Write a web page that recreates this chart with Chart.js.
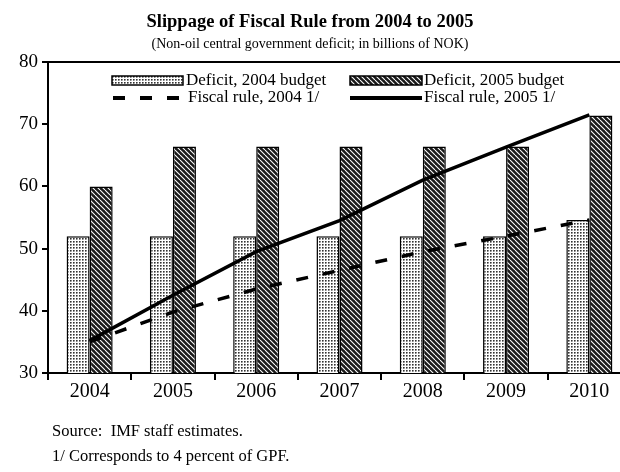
<!DOCTYPE html>
<html>
<head>
<meta charset="utf-8">
<script src="https://cdn.jsdelivr.net/npm/chart.js@4.4.1/dist/chart.umd.min.js"></script>
<style>
html, body { margin: 0; padding: 0; background: #fff; overflow: hidden; }
#wrap { width: 640px; height: 472px; }
</style>
</head>
<body>
<div id="wrap"><canvas id="mycanvas" width="640" height="472"></canvas></div>
<script>
// data
var years = ["2004", "2005", "2006", "2007", "2008", "2009", "2010"];
var budget2004 = [52, 52, 52, 52, 52, 52, 54.6];
var budget2005 = [60, 66.4, 66.4, 66.4, 66.4, 66.4, 71.4];
var rule2004 = [35, 39.8, 43.5, 46.5, 49.5, 52, 54.6];
var rule2005 = [35.2, 42.5, 49.5, 54.5, 61, 66.3, 71.5];
var yMin = 30, yMax = 80, yStep = 10;

var labels2004 = "Deficit, 2004 budget";
var labels2005 = "Deficit, 2005 budget";
var labelRule04 = "Fiscal rule, 2004 1/";
var labelRule05 = "Fiscal rule, 2005 1/";

var serif = "'Liberation Serif', 'Times New Roman', serif";

var canvas = document.getElementById("mycanvas");
var ctx = canvas.getContext("2d");

function dotPattern() {
	var c = document.createElement("canvas");
	c.width = 3; c.height = 3;
	var g = c.getContext("2d");
	g.fillStyle = "#ffffff";
	g.fillRect(0, 0, 3, 3);
	g.fillStyle = "#bbbbbb";
	g.fillRect(2, 2, 1, 1);
	g.fillStyle = "#808080";
	g.fillRect(2, 1, 1, 1);
	g.fillRect(1, 2, 1, 1);
	g.fillStyle = "#333333";
	g.fillRect(1, 1, 1, 1);
	return ctx.createPattern(c, "repeat");
}

function hatchPattern() {
	var c = document.createElement("canvas");
	c.width = 5; c.height = 5;
	var g = c.getContext("2d");
	g.fillStyle = "#1a1a1a";
	g.fillRect(0, 0, 5, 5);
	g.strokeStyle = "#ffffff";
	g.lineWidth = 1.1;
	[-5, 0, 5].forEach(function(k) {
		g.beginPath();
		g.moveTo(k, 0);
		g.lineTo(k + 5, 5);
		g.stroke();
	});
	return ctx.createPattern(c, "repeat");
}

var dots = dotPattern();
var hatch = hatchPattern();

// title, legend, top frame line and notes
var decor = {
	id: "decor",
	afterDraw: function(chart) {
		var c = chart.ctx;
		var a = chart.chartArea;
		c.save();
		c.strokeStyle = "#000";
		c.lineWidth = 2;
		c.beginPath();
		c.moveTo(a.left, a.top);
		c.lineTo(a.right, a.top);
		c.stroke();

		c.fillStyle = "#000";
		c.textAlign = "center";
		c.textBaseline = "middle";
		c.font = "bold 18.5px " + serif;
		c.fillText("Slippage of Fiscal Rule from 2004 to 2005", 310, 22);
		c.font = "14px " + serif;
		c.fillText("(Non-oil central government deficit; in billions of NOK)", 310, 44);

		// legend
		c.textAlign = "left";
		c.font = "17px " + serif;
		c.lineWidth = 1.5;
		c.fillStyle = dots;
		c.fillRect(112, 76, 71, 9);
		c.strokeRect(112, 76, 71, 9);
		c.fillStyle = hatch;
		c.fillRect(350, 76, 72, 9);
		c.strokeRect(350, 76, 72, 9);
		c.fillStyle = "#000";
		c.fillText(labels2004, 186, 81);
		c.fillText(labels2005, 424, 81);

		c.lineWidth = 4;
		c.setLineDash([12, 15]);
		c.beginPath();
		c.moveTo(113, 98);
		c.lineTo(183, 98);
		c.stroke();
		c.setLineDash([]);
		c.beginPath();
		c.moveTo(350, 98);
		c.lineTo(422, 98);
		c.stroke();
		c.fillText(labelRule04, 188, 98);
		c.fillText(labelRule05, 424, 98);

		c.font = "16.5px " + serif;
		c.fillText("Source:  IMF staff estimates.", 52, 432);
		c.fillText("1/ Corresponds to 4 percent of GPF.", 52, 457);
		c.restore();
	}
};

var chartdata = {
	labels: years,
	datasets: [
		{
			type: "line",
			label: labelRule05,
			data: rule2005,
			borderColor: "#000",
			borderWidth: 3.5,
			pointRadius: 0,
			tension: 0,
			fill: false,
			order: 0
		},
		{
			type: "line",
			label: labelRule04,
			data: rule2004,
			borderColor: "#000",
			borderWidth: 3.5,
			borderDash: [12, 15],
			pointRadius: 0,
			tension: 0,
			fill: false,
			order: 0
		},
		{
			label: labels2004,
			data: budget2004,
			backgroundColor: dots,
			borderColor: "#000",
			borderWidth: 1.5,
			order: 1
		},
		{
			label: labels2005,
			data: budget2005,
			backgroundColor: hatch,
			borderColor: "#000",
			borderWidth: 1.5,
			order: 1
		}
	]
};

var barChart = new Chart(ctx, {
	type: "bar",
	data: chartdata,
	plugins: [decor],
	options: {
		responsive: false,
		animation: false,
		datasets: {
			bar: { categoryPercentage: 0.553, barPercentage: 1.0 }
		},
		layout: { padding: { top: 62, right: 9, left: 0, bottom: 0 } },
		plugins: {
			legend: { display: false },
			title: { display: false },
			tooltip: { enabled: false }
		},
		scales: {
			x: {
				offset: true,
				grid: { drawOnChartArea: false, drawTicks: true, tickLength: 7, color: "#000", lineWidth: 2, offset: true },
				border: { display: true, color: "#000", width: 2 },
				ticks: { color: "#000", font: { family: serif, size: 20 }, padding: 0, maxRotation: 0 },
				afterFit: function(scale) { scale.height = 99; }
			},
			y: {
				min: yMin,
				max: yMax,
				grid: { drawOnChartArea: false, drawTicks: true, tickLength: 6, color: "#000", lineWidth: 2 },
				border: { display: true, color: "#000", width: 2 },
				ticks: { stepSize: yStep, color: "#000", font: { family: serif, size: 19 }, padding: 4 },
				afterFit: function(scale) { scale.width = 48; }
			}
		}
	}
});
</script>
</body>
</html>
